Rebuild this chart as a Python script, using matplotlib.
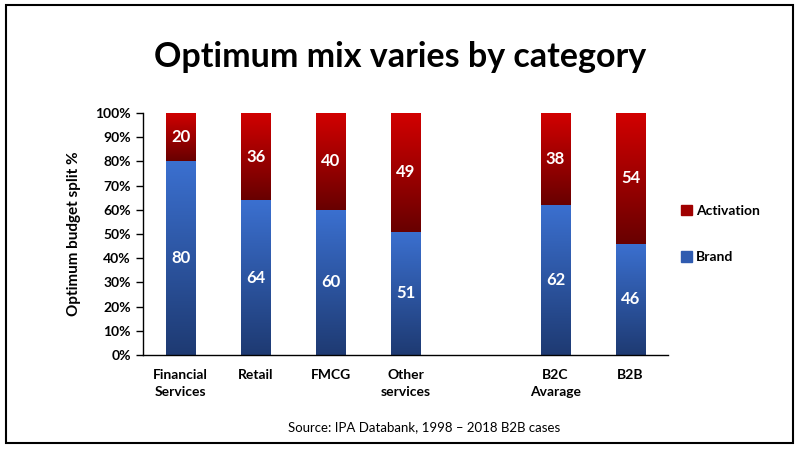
import numpy as np
import matplotlib
matplotlib.use('Agg')
import matplotlib.pyplot as plt
from matplotlib.colors import LinearSegmentedColormap
from matplotlib.patches import Patch, Rectangle

plt.rcParams['font.family'] = ['Lato', 'DejaVu Sans']

categories = ['Financial\nServices', 'Retail', 'FMCG', 'Other\nservices', 'B2C\nAvarage', 'B2B']
brand = [80, 64, 60, 51, 62, 46]
activation = [20, 36, 40, 49, 38, 54]
yticks = [0, 10, 20, 30, 40, 50, 60, 70, 80, 90, 100]

# gap slot between the categories and the averages
x = np.array([0, 1, 2, 3, 5, 6])

blue_cmap = LinearSegmentedColormap.from_list('blue', ['#1e3a72', '#3b70d0'])
red_cmap = LinearSegmentedColormap.from_list('red', ['#680000', '#d20000'])

fig = plt.figure(figsize=(8, 4.5), dpi=100)
ax = fig.add_axes([0.179, 0.211, 0.656, 0.538])

grad = np.linspace(0, 1, 256).reshape(-1, 1)


def gradient_bars(bars, cmap):
    for b in bars:
        x0, y0 = b.get_x(), b.get_y()
        w, h = b.get_width(), b.get_height()
        im = ax.imshow(grad, cmap=cmap, origin='lower', aspect='auto',
                       extent=(x0, x0 + w, y0, y0 + h), zorder=2)
        im.set_clip_path(b)
        b.set_facecolor('none')


b1 = ax.bar(x, brand, width=0.4, color='#2c55a0', linewidth=0, zorder=1)
b2 = ax.bar(x, activation, bottom=brand, width=0.4, color='#9c0000', linewidth=0, zorder=1)
gradient_bars(b1, blue_cmap)
gradient_bars(b2, red_cmap)

for xi, bv, av in zip(x, brand, activation):
    ax.text(xi, bv / 2, str(bv), ha='center', va='center', color='white',
            fontsize=12, fontweight='bold', zorder=3)
    ax.text(xi, bv + av / 2, str(av), ha='center', va='center', color='white',
            fontsize=12, fontweight='bold', zorder=3)

ax.set_xlim(-0.5, 6.5)
ax.set_ylim(0, 100)
ax.set_yticks(yticks)
ax.set_yticklabels([f'{t}%' for t in yticks], fontsize=10, fontweight='bold')
ax.set_xticks(x)
ax.set_xticklabels(categories, fontsize=10, fontweight='bold', linespacing=1.55)
ax.tick_params(axis='x', length=0, pad=10)
ax.tick_params(axis='y', length=5, width=1, pad=4)
for s in ['top', 'right']:
    ax.spines[s].set_visible(False)
ax.spines['left'].set_linewidth(1)
ax.spines['bottom'].set_linewidth(1)
ax.set_ylabel('Optimum budget split %', fontsize=11, fontweight='bold', labelpad=10)

handles = [Patch(color='#a00000', label='Activation'), Patch(color='#2f5bb0', label='Brand')]
leg = ax.legend(handles=handles, loc='center left', bbox_to_anchor=(1.0, 0.5),
                frameon=False, handlelength=0.8, handleheight=0.8, handletextpad=0.3,
                labelspacing=2.45, prop={'size': 10, 'weight': 'bold'})

fig.text(0.5, 0.873, 'Optimum mix varies by category', ha='center', va='center',
         fontsize=24.5, fontweight='bold')
fig.text(0.53, 0.051, 'Source: IPA Databank, 1998 \u2013 2018 B2B cases', ha='center',
         va='center', fontsize=9.5)

fig.patches.append(Rectangle((0.0075, 0.0156), 0.9835, 0.9734, transform=fig.transFigure,
                             fill=False, edgecolor='black', linewidth=1.5))

fig.savefig('out.png', dpi=100)
